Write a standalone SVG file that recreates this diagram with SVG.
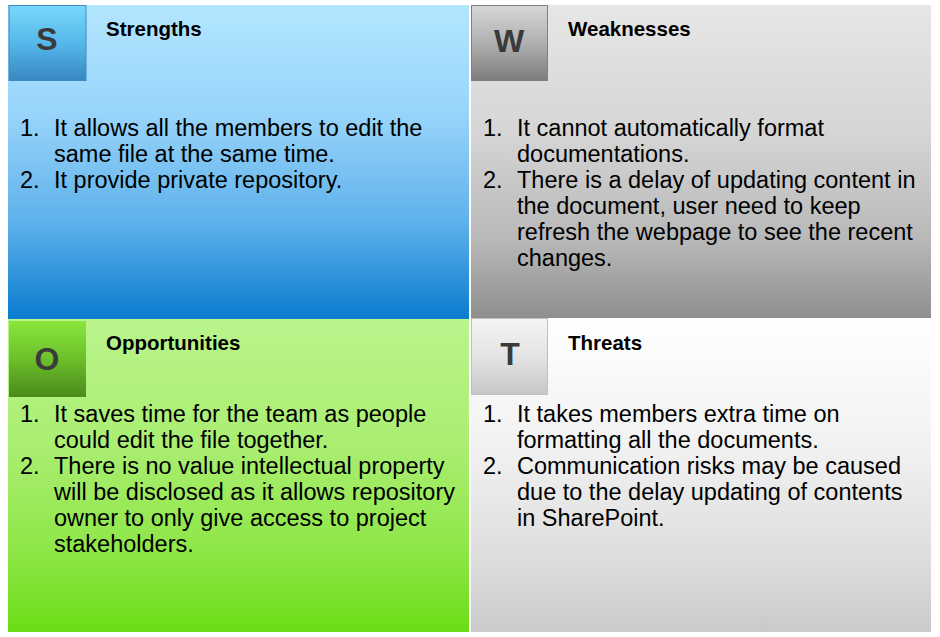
<svg xmlns="http://www.w3.org/2000/svg" width="940" height="637" viewBox="0 0 940 637">
  <defs>
    <linearGradient id="gS" x1="0" y1="0" x2="0" y2="1">
      <stop offset="0" stop-color="#b3e6ff"/>
      <stop offset="0.35" stop-color="#98d4fa"/>
      <stop offset="0.7" stop-color="#5cb0ea"/>
      <stop offset="1" stop-color="#0a7bcf"/>
    </linearGradient>
    <linearGradient id="gSb" x1="0" y1="0" x2="0" y2="1">
      <stop offset="0" stop-color="#78d8fb"/>
      <stop offset="0.5" stop-color="#55b8ea"/>
      <stop offset="1" stop-color="#3887c0"/>
    </linearGradient>
    <linearGradient id="gW" x1="0" y1="0" x2="0" y2="1">
      <stop offset="0" stop-color="#e6e6e6"/>
      <stop offset="0.4" stop-color="#d6d6d6"/>
      <stop offset="0.75" stop-color="#b8b8b8"/>
      <stop offset="1" stop-color="#8f8f8f"/>
    </linearGradient>
    <linearGradient id="gWb" x1="0" y1="0" x2="0" y2="1">
      <stop offset="0" stop-color="#d6d6d6"/>
      <stop offset="0.5" stop-color="#b0b0b0"/>
      <stop offset="1" stop-color="#7c7c7c"/>
    </linearGradient>
    <linearGradient id="gO" x1="0" y1="0" x2="0" y2="1">
      <stop offset="0" stop-color="#baf48c"/>
      <stop offset="0.4" stop-color="#aaee72"/>
      <stop offset="0.75" stop-color="#8ee646"/>
      <stop offset="1" stop-color="#6add16"/>
    </linearGradient>
    <linearGradient id="gOb" x1="0" y1="0" x2="0" y2="1">
      <stop offset="0" stop-color="#8ae63c"/>
      <stop offset="0.5" stop-color="#6cbf2a"/>
      <stop offset="1" stop-color="#4a8a1c"/>
    </linearGradient>
    <linearGradient id="gT" x1="0" y1="0" x2="0" y2="1">
      <stop offset="0" stop-color="#ffffff"/>
      <stop offset="0.4" stop-color="#f2f2f2"/>
      <stop offset="0.75" stop-color="#dedede"/>
      <stop offset="1" stop-color="#cacaca"/>
    </linearGradient>
    <linearGradient id="gTb" x1="0" y1="0" x2="0" y2="1">
      <stop offset="0" stop-color="#f4f4f4"/>
      <stop offset="0.5" stop-color="#e4e4e4"/>
      <stop offset="1" stop-color="#c6c6c6"/>
    </linearGradient>
  </defs>
  <style>
    .letter { font-family: "Liberation Sans", Arial, sans-serif; font-weight: bold; font-size: 32px; fill: #3a3a3a; text-anchor: middle; }
    .title { font-family: "Liberation Sans", Arial, sans-serif; font-weight: bold; font-size: 20.5px; fill: #000; }
    .body { font-family: "Liberation Sans", Arial, sans-serif; font-size: 23.5px; fill: #000; }
  </style>
  <rect width="940" height="637" fill="#ffffff"/>

  <g id="strengths">
    <rect x="8" y="5" width="461" height="314" fill="url(#gS)"/>
    <rect x="9" y="5.5" width="77" height="75" fill="url(#gSb)" stroke="#3b8ac4" stroke-width="1"/>
    <text class="letter" x="47" y="50">S</text>
    <text class="title" x="106" y="36">Strengths</text>
    <text class="body">
      <tspan x="20" y="136">1.</tspan><tspan x="54" y="136">It allows all the members to edit the</tspan>
      <tspan x="54" y="162">same file at the same time.</tspan>
      <tspan x="20" y="188">2.</tspan><tspan x="54" y="188">It provide private repository.</tspan>
    </text>
  </g>

  <g id="weaknesses">
    <rect x="471" y="5" width="460" height="313" fill="url(#gW)"/>
    <rect x="471.5" y="5.5" width="76" height="75" fill="url(#gWb)" stroke="#808080" stroke-width="1"/>
    <text class="letter" x="509" y="52">W</text>
    <text class="title" x="568" y="36">Weaknesses</text>
    <text class="body">
      <tspan x="483" y="136">1.</tspan><tspan x="517" y="136">It cannot automatically format</tspan>
      <tspan x="517" y="162">documentations.</tspan>
      <tspan x="483" y="188">2.</tspan><tspan x="517" y="188">There is a delay of updating content in</tspan>
      <tspan x="517" y="214">the document, user need to keep</tspan>
      <tspan x="517" y="240">refresh the webpage to see the recent</tspan>
      <tspan x="517" y="266">changes.</tspan>
    </text>
  </g>

  <g id="opportunities">
    <rect x="8" y="319" width="461" height="313" fill="url(#gO)"/>
    <rect x="9" y="321" width="77" height="76" fill="url(#gOb)"/>
    <text class="letter" x="47" y="370">O</text>
    <text class="title" x="106" y="350">Opportunities</text>
    <text class="body">
      <tspan x="20" y="422">1.</tspan><tspan x="54" y="422">It saves time for the team as people</tspan>
      <tspan x="54" y="448">could edit the file together.</tspan>
      <tspan x="20" y="474">2.</tspan><tspan x="54" y="474">There is no value intellectual property</tspan>
      <tspan x="54" y="500">will be disclosed as it allows repository</tspan>
      <tspan x="54" y="526">owner to only give access to project</tspan>
      <tspan x="54" y="552">stakeholders.</tspan>
    </text>
  </g>

  <g id="threats">
    <rect x="471" y="318" width="460" height="314" fill="url(#gT)"/>
    <rect x="471.5" y="318.5" width="76" height="76" fill="url(#gTb)" stroke="#c0c0c0" stroke-width="1"/>
    <text class="letter" x="510" y="365">T</text>
    <text class="title" x="568" y="350">Threats</text>
    <text class="body">
      <tspan x="483" y="422">1.</tspan><tspan x="517" y="422">It takes members extra time on</tspan>
      <tspan x="517" y="448">formatting all the documents.</tspan>
      <tspan x="483" y="474">2.</tspan><tspan x="517" y="474">Communication risks may be caused</tspan>
      <tspan x="517" y="500">due to the delay updating of contents</tspan>
      <tspan x="517" y="526">in SharePoint.</tspan>
    </text>
  </g>
</svg>
